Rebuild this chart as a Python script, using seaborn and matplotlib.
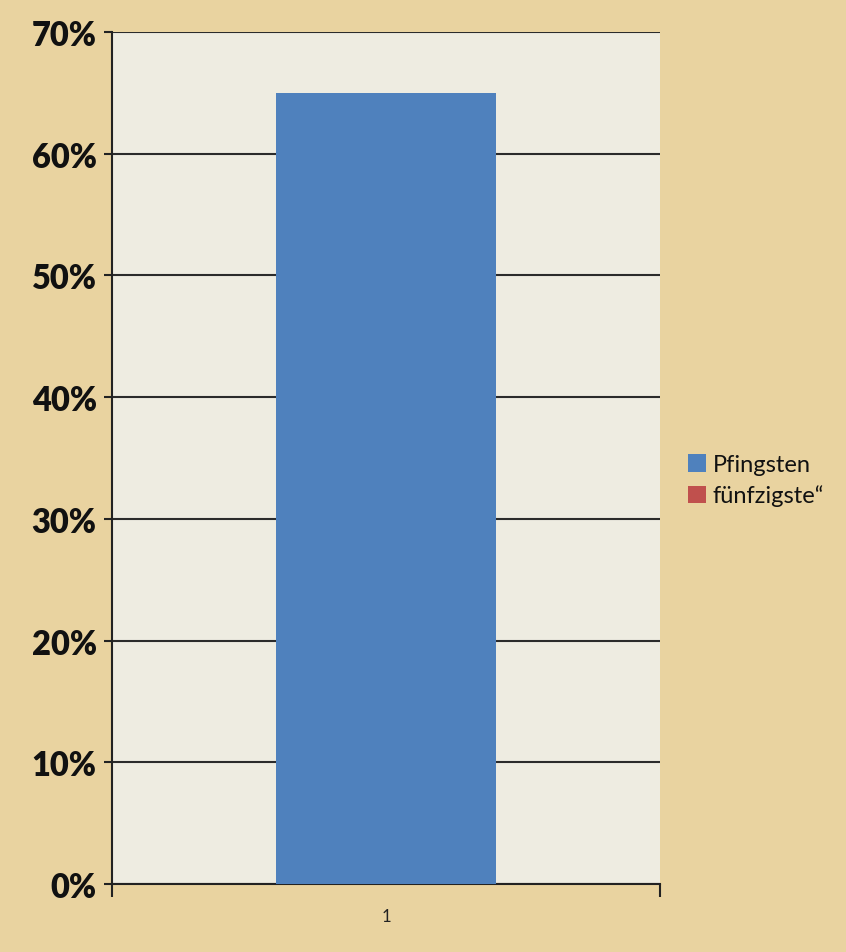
import matplotlib
matplotlib.use('Agg')
import matplotlib.pyplot as plt
import seaborn as sns
import pandas as pd
from matplotlib.ticker import PercentFormatter, FixedLocator

# Daten
kategorien = ['1', '1']
serien = ['Pfingsten', 'fünfzigste“']
werte = [0.65, 0.0]
farben = ['#4F81BD', '#C0504D']
y_ticks = [0.0, 0.1, 0.2, 0.3, 0.4, 0.5, 0.6, 0.7]

df = pd.DataFrame({'Kategorie': kategorien, 'Serie': serien, 'Wert': werte})

sns.set_style('white')
plt.rcParams['font.family'] = ['Lato', 'DejaVu Sans']
plt.rcParams['text.color'] = '#111111'

fig = plt.figure(figsize=(8.46, 9.53), dpi=100)
fig.patch.set_facecolor('#E9D3A0')
ax = fig.add_axes([0.1324, 0.0714, 0.6478, 0.894])
ax.set_facecolor('#EEECE1')

sns.barplot(data=df, x='Kategorie', y='Wert', hue='Serie', palette=farben,
            dodge=False, width=0.4, ax=ax, saturation=1, zorder=3,
            edgecolor='none', linewidth=0)

ax.set_xlim(-0.5, 0.5)
ax.set_ylim(0, 0.7)
ax.set_yticks(y_ticks)
ax.yaxis.set_major_formatter(PercentFormatter(1.0, decimals=0))
ax.yaxis.grid(True, color='#2b2b2b', linewidth=1.5, zorder=1)
ax.set_axisbelow(True)

for s in ['top', 'right']:
    ax.spines[s].set_visible(False)
for s in ['left', 'bottom']:
    ax.spines[s].set_color('#222222')
    ax.spines[s].set_linewidth(1.5)

# Kategoriegrenzen als Teilstriche wie in Excel
ax.xaxis.set_minor_locator(FixedLocator([-0.5, 0.5]))
ax.tick_params(axis='x', which='minor', bottom=True, length=9, width=1.5,
               color='#222222')

ax.tick_params(axis='y', which='both', left=True, length=6, width=1.5,
               color='#222222', labelsize=23.5, pad=5, labelcolor='#111111')
ax.tick_params(axis='x', which='major', bottom=False, labelsize=12, pad=14,
               labelcolor='#222222')
for lbl in ax.get_yticklabels():
    lbl.set_fontweight('heavy')
ax.set_xlabel('')
ax.set_ylabel('')

leg = ax.legend(loc='center left', bbox_to_anchor=(0.788, 0.495),
                bbox_transform=fig.transFigure, frameon=False, fontsize=17,
                handlelength=0.75, handleheight=0.75, handletextpad=0.3,
                labelspacing=0.4)

fig.savefig('out.png', dpi=100, facecolor=fig.get_facecolor())
